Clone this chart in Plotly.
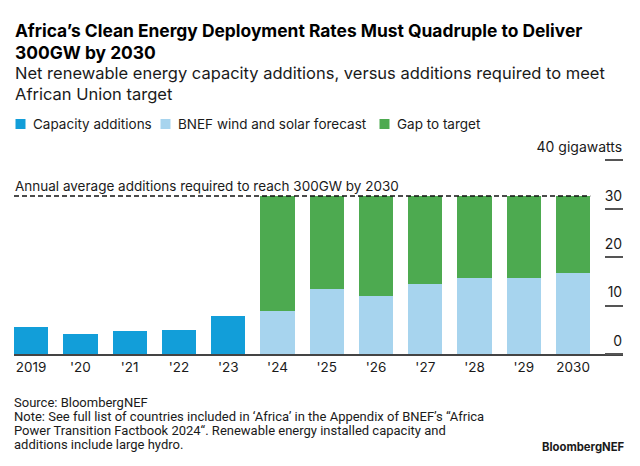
import plotly.graph_objects as go

# ---------------- data ----------------
years = ["2019", "'20", "'21", "'22", "'23", "'24", "'25", "'26", "'27", "'28", "'29", "2030"]
capacity_additions = [5.6, 4.1, 4.8, 4.9, 7.9, None, None, None, None, None, None, None]
bnef_forecast = [None, None, None, None, None, 8.8, 13.4, 12.0, 14.4, 15.6, 15.7, 16.8]
target_annual = 32.6  # GW per year required to reach 300GW by 2030
gap_to_target = [None if f is None else round(target_annual - f, 2) for f in bnef_forecast]
y_tickvals = [0, 10, 20, 30, 40]
y_ticktext = ["0", "10", "20", "30", "40 gigawatts"]
legend_names = ["Capacity additions", "BNEF wind and solar forecast", "Gap to target"]

# ---------------- style ----------------
C_CAP = "#129ED9"
C_FC = "#A7D4EE"
C_GAP = "#4DAA50"
colors = [C_CAP, C_FC, C_GAP]
FONT = "Inter"
NOTE_FONT = "Roboto"

# the page body has an 8px margin: the figure is drawn 8px in from the top-left
OFF = 8
W, H = 640 - OFF, 466 - OFF
PLOT_L, PLOT_R, PLOT_T, PLOT_B = 14, 623, 136, 354   # page pixels
ML = PLOT_L - OFF
MT = PLOT_T - OFF
plot_w = PLOT_R - PLOT_L
plot_h = PLOT_B - PLOT_T
MR = W - ML - plot_w
MB = H - MT - plot_h
bar_w = 0.696
x_lo = -bar_w / 2
x_hi = x_lo + plot_w / 49.27
y_max = 45

xs = list(range(len(years)))

fig = go.Figure()
for name, vals, col in zip(legend_names, [capacity_additions, bnef_forecast, gap_to_target], colors):
    fig.add_trace(go.Bar(x=xs, y=vals, name=name, showlegend=False,
                         marker=dict(color=col, line=dict(width=0)), width=bar_w))

fig.add_shape(type="line", xref="x", yref="y", x0=x_lo, x1=len(years) - 1 + bar_w / 2,
              y0=target_annual, y1=target_annual, layer="above",
              line=dict(color="#111", width=1.5, dash="5px,3px"))


def py2(py):
    return (PLOT_B - py) / plot_h


def px2(px):
    return (px - PLOT_L) / plot_w


annos = [
    dict(text="<b>Africa’s Clean Energy Deployment Rates Must Quadruple to Deliver</b>",
         px=13, py=31, size=17.4, color="#000"),
    dict(text="<b>300GW by 2030</b>", px=13, py=52, size=17.4, color="#000"),
    dict(text="Net renewable energy capacity additions, versus additions required to meet",
         px=13, py=73, size=16.5, color="#1a1a1a"),
    dict(text="African Union target", px=13, py=94, size=16.5, color="#1a1a1a"),
    dict(text="Annual average additions required to reach 300GW by 2030",
         px=13, py=185.5, size=13.5, color="#1a1a1a"),
    dict(text="Source: BloombergNEF", px=12, py=402.5, size=13, color="#1a1a1a", font=NOTE_FONT),
    dict(text="Note: See full list of countries included in ‘Africa’ in the Appendix of BNEF’s “Africa",
         px=12, py=416.5, size=13, color="#1a1a1a", font=NOTE_FONT),
    dict(text="Power Transition Factbook 2024“. Renewable energy installed capacity and",
         px=12, py=430.5, size=13, color="#1a1a1a", font=NOTE_FONT),
    dict(text="additions include large hydro.", px=12, py=444.5, size=13, color="#1a1a1a",
         font=NOTE_FONT),
]
for a in annos:
    fig.add_annotation(text=a["text"], xref="paper", yref="paper",
                       x=px2(a["px"]), y=py2(a["py"]),
                       xanchor="left", yanchor="middle", showarrow=False,
                       font=dict(family=a.get("font", FONT), size=a["size"], color=a["color"]))
fig.add_annotation(text="<b>BloombergNEF</b>", xref="paper", yref="paper",
                   x=px2(625.5), y=py2(446.5), xanchor="right", yanchor="middle",
                   showarrow=False, font=dict(family=FONT, size=11.3, color="#1a1a1a"))

# legend (swatch + label), laid out left to right
legend_swatch_x = [15.5, 160.5, 379.5]
legend_y = 124
for name, col, sx in zip(legend_names, colors, legend_swatch_x):
    fig.add_shape(type="rect", xref="paper", yref="paper",
                  x0=px2(sx), x1=px2(sx + 10), y0=py2(legend_y + 5), y1=py2(legend_y - 5),
                  fillcolor=col, line=dict(width=0))
    fig.add_annotation(text=name, xref="paper", yref="paper", x=px2(sx + 15.5), y=py2(legend_y),
                       xanchor="left", yanchor="middle", showarrow=False,
                       font=dict(family=FONT, size=13.5, color="#1a1a1a"))

fig.update_layout(
    width=W, height=H,
    margin=dict(l=ML, r=MR, t=MT, b=MB, pad=0, autoexpand=False),
    paper_bgcolor="white", plot_bgcolor="white",
    barmode="stack",
    showlegend=False,
    font=dict(family=FONT, color="#1a1a1a"),
    xaxis=dict(range=[x_lo, x_hi], tickmode="array", tickvals=xs, ticktext=years,
               showgrid=False, zeroline=False, showline=True, linecolor="#444", linewidth=1.5,
               ticks="", tickfont=dict(family=FONT, size=13.5, color="#1a1a1a")),
    yaxis=dict(range=[0, y_max], anchor="free", position=1, side="left",
               tickmode="array", tickvals=y_tickvals,
               ticktext=y_ticktext, showgrid=False, zeroline=False, showline=False,
               ticks="outside", ticklen=18, tickwidth=1.5, tickcolor="#555",
               ticklabelstandoff=-20, ticklabelshift=-13,
               tickfont=dict(family=FONT, size=14, color="#1a1a1a")),
)

fig.write_html("out.html")
